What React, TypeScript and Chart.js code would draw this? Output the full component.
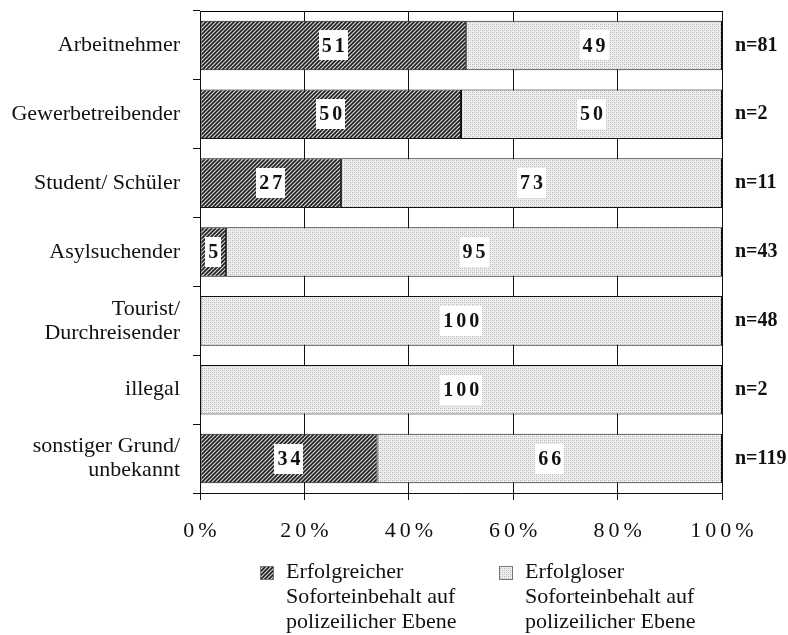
import React, { useEffect, useRef } from "react";
import { Chart, registerables } from "chart.js";

Chart.register(...registerables);

const categories: (string | string[])[] = [
  "Arbeitnehmer",
  "Gewerbetreibender",
  "Student/ Schüler",
  "Asylsuchender",
  ["Tourist/", "Durchreisender"],
  "illegal",
  ["sonstiger Grund/", "unbekannt"],
];
const successful = [51, 50, 27, 5, 0, 0, 34];
const unsuccessful = [49, 50, 73, 95, 100, 100, 66];
const nLabels = ["n=81", "n=2", "n=11", "n=43", "n=48", "n=2", "n=119"];
const xTickValues = [0, 20, 40, 60, 80, 100];
const xTickLabels = ["0%", "20%", "40%", "60%", "80%", "100%"];
const legendLabels = [
  ["Erfolgreicher", "Soforteinbehalt auf", "polizeilicher Ebene"],
  ["Erfolgloser", "Soforteinbehalt auf", "polizeilicher Ebene"],
];

const SERIF = "'Liberation Serif', 'Times New Roman', serif";

function makeHatch(): CanvasPattern | string {
  const c = document.createElement("canvas");
  c.width = 4;
  c.height = 4;
  const g = c.getContext("2d");
  if (!g) return "#666";
  g.fillStyle = "#d8d8d8";
  g.fillRect(0, 0, 4, 4);
  g.strokeStyle = "#1e1e1e";
  g.lineWidth = 1.6;
  g.beginPath();
  g.moveTo(0, 4);
  g.lineTo(4, 0);
  g.moveTo(-1, 1);
  g.lineTo(1, -1);
  g.moveTo(3, 5);
  g.lineTo(5, 3);
  g.stroke();
  return g.createPattern(c, "repeat") || "#666";
}

function makeStipple(): CanvasPattern | string {
  const c = document.createElement("canvas");
  c.width = 4;
  c.height = 4;
  const g = c.getContext("2d");
  if (!g) return "#ddd";
  g.fillStyle = "#ededed";
  g.fillRect(0, 0, 4, 4);
  g.fillStyle = "#b4b4b4";
  g.fillRect(0, 0, 1, 1);
  g.fillRect(2, 2, 1, 1);
  g.fillStyle = "#d0d0d0";
  g.fillRect(2, 0, 1, 1);
  g.fillRect(0, 2, 1, 1);
  return g.createPattern(c, "repeat") || "#ddd";
}

function spacedWidth(ctx: CanvasRenderingContext2D, text: string, spacing: number) {
  const chars = Array.from(text);
  const widths = chars.map((ch) => ctx.measureText(ch).width);
  return widths.reduce((a, b) => a + b, 0) + spacing * (chars.length - 1);
}

function drawSpaced(
  ctx: CanvasRenderingContext2D,
  text: string,
  cx: number,
  cy: number,
  spacing: number
) {
  const chars = Array.from(text);
  const widths = chars.map((ch) => ctx.measureText(ch).width);
  const total = widths.reduce((a, b) => a + b, 0) + spacing * (chars.length - 1);
  let x = cx - total / 2;
  ctx.textAlign = "left";
  ctx.textBaseline = "middle";
  chars.forEach((ch, i) => {
    ctx.fillText(ch, x, cy);
    x += widths[i] + spacing;
  });
}

export default function App() {
  const ref = useRef<HTMLCanvasElement | null>(null);

  useEffect(() => {
    if (!ref.current) return;
    const hatch = makeHatch();
    const stipple = makeStipple();
    const fills = [hatch, stipple];

    const overlay = {
      id: "overlay",
      afterDatasetsDraw(chart: any) {
        const ctx: CanvasRenderingContext2D = chart.ctx;
        ctx.save();
        ctx.font = `bold 20px ${SERIF}`;
        chart.data.datasets.forEach((ds: any, di: number) => {
          const meta = chart.getDatasetMeta(di);
          meta.data.forEach((el: any, i: number) => {
            const v = ds.data[i];
            if (!v) return;
            const text = String(v);
            const cx = (el.x + el.base) / 2;
            const cy = el.y;
            const w = spacedWidth(ctx, text, 3);
            ctx.fillStyle = "#ffffff";
            ctx.fillRect(Math.round(cx - w / 2 - 3), Math.round(cy - 15), Math.round(w + 6), 30);
            ctx.fillStyle = "#111";
            drawSpaced(ctx, text, cx, cy + 1, 3);
          });
        });
        ctx.restore();
      },
      afterDraw(chart: any) {
        const ctx: CanvasRenderingContext2D = chart.ctx;
        const area = chart.chartArea;
        const xs = chart.scales.x;
        ctx.save();
        // top frame line
        ctx.strokeStyle = "#000";
        ctx.lineWidth = 1;
        ctx.beginPath();
        const ty = Math.round(area.top) + 0.5;
        ctx.moveTo(area.left, ty);
        ctx.lineTo(area.right, ty);
        ctx.stroke();

        // x tick labels (letter spaced)
        ctx.fillStyle = "#111";
        ctx.font = `22px ${SERIF}`;
        xTickValues.forEach((v, i) => {
          const px = xs.getPixelForValue(v);
          drawSpaced(ctx, xTickLabels[i], px, area.bottom + 38, 4);
        });

        // legend
        const boxX = [260, 499];
        const textX = [286, 525];
        const baseY = 578;
        legendLabels.forEach((lines, li) => {
          ctx.fillStyle = fills[li] as any;
          ctx.fillRect(boxX[li], 566, 14, 14);
          ctx.strokeStyle = "#777";
          ctx.lineWidth = 1;
          ctx.strokeRect(boxX[li] + 0.5, 566.5, 13, 13);
          ctx.fillStyle = "#111";
          ctx.font = `22px ${SERIF}`;
          ctx.textAlign = "left";
          ctx.textBaseline = "alphabetic";
          lines.forEach((ln, k) => {
            ctx.fillText(ln, textX[li], baseY + k * 25);
          });
        });
        ctx.restore();
      },
    };

    const noPad = (scale: any) => {
      scale.paddingTop = 0;
      scale.paddingBottom = 0;
      scale.paddingLeft = 0;
      scale.paddingRight = 0;
    };

    const chart = new Chart(ref.current, {
      type: "bar",
      data: {
        labels: categories as any,
        datasets: [
          {
            label: legendLabels[0].join(" "),
            data: successful,
            backgroundColor: hatch as any,
            borderColor: "#111",
            borderWidth: 1,
            borderSkipped: false,
            barPercentage: 0.72,
            categoryPercentage: 1,
          },
          {
            label: legendLabels[1].join(" "),
            data: unsuccessful,
            backgroundColor: stipple as any,
            borderColor: "#111",
            borderWidth: 1,
            borderSkipped: false,
            barPercentage: 0.72,
            categoryPercentage: 1,
          },
        ],
      },
      options: {
        indexAxis: "y",
        animation: false,
        responsive: true,
        maintainAspectRatio: false,
        layout: { padding: { top: 11, left: 0, right: 0, bottom: 0 } },
        plugins: {
          legend: { display: false },
          tooltip: { enabled: false },
        },
        scales: {
          x: {
            type: "linear",
            stacked: true,
            min: 0,
            max: 100,
            ticks: { stepSize: 20, display: false },
            grid: {
              color: "#111",
              lineWidth: 1,
              tickLength: 7,
              drawTicks: true,
            },
            border: { display: true, color: "#111", width: 1 },
            afterFit(scale: any) {
              scale.height = 142;
              noPad(scale);
            },
          },
          y: {
            type: "category",
            stacked: true,
            position: "left",
            grid: {
              display: true,
              drawOnChartArea: false,
              drawTicks: true,
              tickLength: 7,
              color: "#111",
              offset: true,
            },
            border: { display: true, color: "#111", width: 1 },
            ticks: {
              color: "#111",
              padding: 13,
              font: { family: SERIF, size: 22, lineHeight: 1.1 },
            },
            afterFit(scale: any) {
              scale.width = 200;
              noPad(scale);
            },
          },
          y2: {
            type: "category",
            position: "right",
            labels: nLabels,
            offset: true,
            grid: { display: false, drawTicks: false, offset: true },
            border: { display: false },
            ticks: {
              color: "#111",
              padding: 13,
              font: { family: SERIF, size: 20, weight: "bold" },
            },
            afterFit(scale: any) {
              scale.width = 66;
              noPad(scale);
            },
          },
        },
      },
      plugins: [overlay],
    } as any);

    return () => {
      chart.destroy();
    };
  }, []);

  return (
    <div style={{ position: "fixed", left: 0, top: 0, width: 788, height: 635, background: "#fff" }}>
      <canvas ref={ref} />
    </div>
  );
}
